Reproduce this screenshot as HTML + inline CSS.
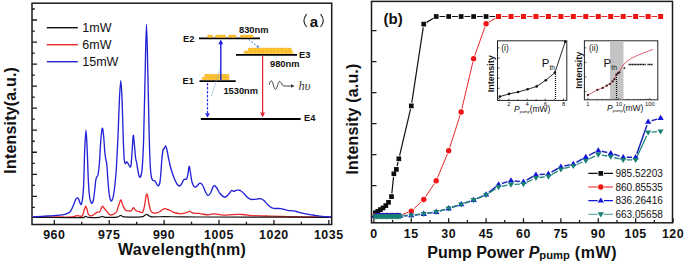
<!DOCTYPE html>
<html><head><meta charset="utf-8"><title>figure</title><style>
*{margin:0;padding:0}
html,body{width:685px;height:263px;background:#fff;overflow:hidden}
svg{display:block}
text{font-family:"Liberation Sans",sans-serif;fill:#111}
.tl{font-size:12.4px;font-weight:bold;text-anchor:middle;letter-spacing:0.55px}
.al{font-size:16px;font-weight:bold}
.lg{font-size:12.5px}
.lr{font-size:10px}
.pa{font-size:14px;font-weight:normal;fill:#333}
.ab{font-size:15px;font-weight:bold}
.bl{font-size:15px;font-weight:bold}
.el{font-size:9.3px;font-weight:bold}
.hv{font-family:"Liberation Serif",serif;font-style:italic;font-size:12.5px;fill:#3a3a3a}
.it{font-size:5.8px;text-anchor:middle}
.ip{font-size:8.5px}
.pth{font-size:11.5px}
.ix{font-size:8.5px}
.iy{font-size:9px;font-weight:bold}
</style></head>
<body><svg width="685" height="263" viewBox="0 0 685 263">
<rect width="685" height="263" fill="#fff"/>
<rect x="32" y="3.2" width="299.7" height="221.3" fill="none" stroke="#1b1b1b" stroke-width="1.5"/>
<path d="M32,20h5 M32,42.04h5 M32,64.08h5 M32,86.12h5 M32,108.16h5 M32,130.2h5 M32,152.24h5 M32,174.28h5 M32,196.32h5 M32,9h2.8 M32,31.04h2.8 M32,53.08h2.8 M32,75.12h2.8 M32,97.16h2.8 M32,119.2h2.8 M32,141.24h2.8 M32,163.28h2.8 M32,185.32h2.8 M32,207.36h2.8 M54.3,224.5v-4.5 M109.2,224.5v-4.5 M164.1,224.5v-4.5 M219,224.5v-4.5 M273.9,224.5v-4.5 M328.8,224.5v-4.5 M81.75,224.5v-2.7 M136.65,224.5v-2.7 M191.55,224.5v-2.7 M246.45,224.5v-2.7 M301.35,224.5v-2.7" stroke="#1b1b1b" stroke-width="1.3" fill="none"/>
<text x="54.3" y="239.1" class="tl">960</text>
<text x="109.2" y="239.1" class="tl">975</text>
<text x="164.1" y="239.1" class="tl">990</text>
<text x="219" y="239.1" class="tl">1005</text>
<text x="273.9" y="239.1" class="tl">1020</text>
<text x="328.8" y="239.1" class="tl">1035</text>
<text x="182.1" y="254.9" class="al" text-anchor="middle" letter-spacing="0.32">Wavelength(nm)</text>
<text transform="translate(15.9,120.3) rotate(-90)" class="al" text-anchor="middle" letter-spacing="0.18">Intensity(a.u.)</text>
<path d="M32.5,216.9 C37.08,216.92 53.7,216.98 60,217 C66.3,217.02 67.88,217.1 70.3,217 C72.72,216.9 73.33,216.63 74.5,216.4 C75.67,216.17 76.38,215.63 77.3,215.6 C78.22,215.57 79.13,216.2 80,216.2 C80.87,216.2 81.8,216.63 82.5,215.6 C83.2,214.57 83.65,211.57 84.2,210 C84.75,208.43 85.3,206.2 85.8,206.2 C86.3,206.2 86.75,208.62 87.2,210 C87.65,211.38 87.82,213.52 88.5,214.5 C89.18,215.48 90.38,215.9 91.3,215.9 C92.22,215.9 93.07,215.08 94,214.5 C94.93,213.92 95.95,212.87 96.9,212.4 C97.85,211.93 98.98,212.35 99.7,211.7 C100.42,211.05 100.73,209.43 101.2,208.5 C101.67,207.57 102.03,206.18 102.5,206.1 C102.97,206.02 103.3,207.15 104,208 C104.7,208.85 105.9,210.2 106.7,211.2 C107.5,212.2 108.1,213.37 108.8,214 C109.5,214.63 110.12,214.97 110.9,215 C111.68,215.03 112.55,214.75 113.5,214.2 C114.45,213.65 115.72,213.23 116.6,211.7 C117.48,210.17 118.1,206.95 118.8,205 C119.5,203.05 120.2,200.17 120.8,200 C121.4,199.83 121.9,202.75 122.4,204 C122.9,205.25 123.25,206.47 123.8,207.5 C124.35,208.53 124.92,209.63 125.7,210.2 C126.48,210.77 127.57,210.82 128.5,210.9 C129.43,210.98 130.48,211.25 131.3,210.7 C132.12,210.15 132.72,207.68 133.4,207.6 C134.08,207.52 134.45,209.52 135.4,210.2 C136.35,210.88 137.9,211.37 139.1,211.7 C140.3,212.03 141.7,213.15 142.6,212.2 C143.5,211.25 143.98,208.37 144.5,206 C145.02,203.63 145.32,200.07 145.7,198 C146.08,195.93 146.42,193.6 146.8,193.6 C147.18,193.6 147.6,196.1 148,198 C148.4,199.9 148.7,202.78 149.2,205 C149.7,207.22 150.28,209.97 151,211.3 C151.72,212.63 152.5,212.75 153.5,213 C154.5,213.25 155.92,213.05 157,212.8 C158.08,212.55 159.08,212.05 160,211.5 C160.92,210.95 161.67,209.98 162.5,209.5 C163.33,209.02 164.08,208.58 165,208.6 C165.92,208.62 166.83,209.12 168,209.6 C169.17,210.08 170.67,210.93 172,211.5 C173.33,212.07 174.6,212.62 176,213 C177.4,213.38 178.98,213.77 180.4,213.8 C181.82,213.83 183.32,213.47 184.5,213.2 C185.68,212.93 186.63,212.53 187.5,212.2 C188.37,211.87 188.95,211.13 189.7,211.2 C190.45,211.27 191.12,212.25 192,212.6 C192.88,212.95 193.83,213.17 195,213.3 C196.17,213.43 197.67,213.25 199,213.4 C200.33,213.55 201.43,213.97 203,214.2 C204.57,214.43 206.98,214.8 208.4,214.8 C209.82,214.8 210.52,214.37 211.5,214.2 C212.48,214.03 213.22,213.78 214.3,213.8 C215.38,213.82 216.25,214.08 218,214.3 C219.75,214.52 222.47,215.05 224.8,215.1 C227.13,215.15 229.37,214.72 232,214.6 C234.63,214.48 238.27,214.35 240.6,214.4 C242.93,214.45 244.22,214.7 246,214.9 C247.78,215.1 248.13,215.42 251.3,215.6 C254.47,215.78 258.55,215.83 265,216 C271.45,216.17 279,216.42 290,216.6 C301,216.78 324.17,217.02 331,217.1" stroke="#e8272a" stroke-width="1.3" fill="none" stroke-linejoin="round"/>
<path d="M32.5,217.4 C38.75,217.43 61.67,217.57 70,217.6 C78.33,217.63 79.87,217.82 82.5,217.6 C85.13,217.38 84.8,216.33 85.8,216.3 C86.8,216.27 86.3,217.23 88.5,217.4 C90.7,217.57 96.67,217.47 99,217.3 C101.33,217.13 101.42,216.4 102.5,216.4 C103.58,216.4 103.08,217.18 105.5,217.3 C107.92,217.42 114.45,217.43 117,217.1 C119.55,216.77 119.63,215.35 120.8,215.3 C121.97,215.25 120.8,216.53 124,216.8 C127.37,217.07 137.53,217.15 141,216.9 C144.47,216.65 143.83,215.72 144.8,215.3 C145.77,214.88 146.13,214.35 146.8,214.4 C147.47,214.45 147.93,215.2 148.8,215.6 C149.67,216 149.3,216.63 152,216.8 C154.7,216.97 160.33,216.58 165,216.6 C169.67,216.62 174.17,216.83 180,216.9 C185.83,216.97 188.33,216.97 200,217 C211.67,217.03 228.17,217.05 250,217.1 C271.83,217.15 317.5,217.27 331,217.3" stroke="#111" stroke-width="1.2" fill="none" stroke-linejoin="round"/>
<path d="M32.5,216.8 C35,216.67 42.92,216.27 47.5,216 C52.08,215.73 57.08,215.48 60,215.2 C62.92,214.92 63.58,214.68 65,214.3 C66.42,213.92 67.53,213.48 68.5,212.9 C69.47,212.32 70,212.03 70.8,210.8 C71.6,209.57 72.5,207.37 73.3,205.5 C74.1,203.63 74.93,200.88 75.6,199.6 C76.27,198.32 76.77,197.82 77.3,197.8 C77.83,197.78 78.32,198.55 78.8,199.5 C79.28,200.45 79.78,202.72 80.2,203.5 C80.62,204.28 80.93,204.87 81.3,204.2 C81.67,203.53 82.02,202.53 82.4,199.5 C82.78,196.47 83.22,194.25 83.6,186 C83.98,177.75 84.3,159.3 84.7,150 C85.1,140.7 85.58,130.2 86,130.2 C86.42,130.2 86.8,141.37 87.2,150 C87.6,158.63 87.98,174.08 88.4,182 C88.82,189.92 89.23,194.07 89.7,197.5 C90.17,200.93 90.78,201.68 91.2,202.6 C91.62,203.52 91.83,203.43 92.2,203 C92.57,202.57 93,202 93.4,200 C93.8,198 94.2,194.33 94.6,191 C95,187.67 95.4,182.42 95.8,180 C96.2,177.58 96.6,177.5 97,176.5 C97.4,175.5 97.78,176.42 98.2,174 C98.62,171.58 99.07,167.67 99.5,162 C99.93,156.33 100.33,145.65 100.8,140 C101.27,134.35 101.82,128.6 102.3,128.1 C102.78,127.6 103.28,133.02 103.7,137 C104.12,140.98 104.45,148.27 104.8,152 C105.15,155.73 105.47,157.4 105.8,159.4 C106.13,161.4 106.45,160.57 106.8,164 C107.15,167.43 107.48,174.83 107.9,180 C108.32,185.17 108.82,191.57 109.3,195 C109.78,198.43 110.32,199.77 110.8,200.6 C111.28,201.43 111.73,200.93 112.2,200 C112.67,199.07 113.13,197.67 113.6,195 C114.07,192.33 114.53,188.5 115,184 C115.47,179.5 115.9,176 116.4,168 C116.9,160 117.5,147.33 118,136 C118.5,124.67 118.93,109.23 119.4,100 C119.87,90.77 120.35,80.6 120.8,80.6 C121.25,80.6 121.68,90.1 122.1,100 C122.52,109.9 122.93,130 123.3,140 C123.67,150 123.97,156.07 124.3,160 C124.63,163.93 124.88,163.3 125.3,163.6 C125.72,163.9 126.3,161.73 126.8,161.8 C127.3,161.87 127.8,163.23 128.3,164 C128.8,164.77 129.35,166.15 129.8,166.4 C130.25,166.65 130.6,168.23 131,165.5 C131.4,162.77 131.82,155.03 132.2,150 C132.58,144.97 132.92,135.97 133.3,135.3 C133.68,134.63 134.12,142.22 134.5,146 C134.88,149.78 135.25,155.25 135.6,158 C135.95,160.75 136.23,160.5 136.6,162.5 C136.97,164.5 137.33,167.62 137.8,170 C138.27,172.38 138.9,175.8 139.4,176.8 C139.9,177.8 140.33,177.47 140.8,176 C141.27,174.53 141.73,174 142.2,168 C142.67,162 143.13,154.67 143.6,140 C144.07,125.33 144.52,99.25 145,80 C145.48,60.75 146,24.5 146.5,24.5 C147,24.5 147.53,60.75 148,80 C148.47,99.25 148.9,125.33 149.3,140 C149.7,154.67 150.03,161.75 150.4,168 C150.77,174.25 151.07,175.43 151.5,177.5 C151.93,179.57 152.42,179.82 153,180.4 C153.58,180.98 154.33,180.32 155,181 C155.67,181.68 156.42,183.7 157,184.5 C157.58,185.3 158.03,186.05 158.5,185.8 C158.97,185.55 159.42,184.97 159.8,183 C160.18,181.03 160.47,177.83 160.8,174 C161.13,170.17 161.43,164 161.8,160 C162.17,156 162.58,151.92 163,150 C163.42,148.08 163.85,149.17 164.3,148.5 C164.75,147.83 165.25,145.75 165.7,146 C166.15,146.25 166.53,148 167,150 C167.47,152 168,155.5 168.5,158 C169,160.5 169.42,162.67 170,165 C170.58,167.33 171.25,169.67 172,172 C172.75,174.33 173.67,177 174.5,179 C175.33,181 176.15,182.83 177,184 C177.85,185.17 178.85,186 179.6,186 C180.35,186 180.77,185.07 181.5,184 C182.23,182.93 183.17,180.43 184,179.6 C184.83,178.77 185.87,179.77 186.5,179 C187.13,178.23 187.35,177.1 187.8,175 C188.25,172.9 188.75,166.73 189.2,166.4 C189.65,166.07 190.03,170.4 190.5,173 C190.97,175.6 191.33,179.67 192,182 C192.67,184.33 193.67,186.33 194.5,187 C195.33,187.67 196.12,186.63 197,186 C197.88,185.37 198.88,183.37 199.8,183.2 C200.72,183.03 201.55,183.53 202.5,185 C203.45,186.47 204.58,190.25 205.5,192 C206.42,193.75 207.17,195.33 208,195.5 C208.83,195.67 209.57,194.58 210.5,193 C211.43,191.42 212.6,186.92 213.6,186 C214.6,185.08 215.43,186.25 216.5,187.5 C217.57,188.75 218.67,191.88 220,193.5 C221.33,195.12 223.17,196.95 224.5,197.2 C225.83,197.45 226.83,196.12 228,195 C229.17,193.88 230.53,191.1 231.5,190.5 C232.47,189.9 233.05,191.42 233.8,191.4 C234.55,191.38 235.22,190.6 236,190.4 C236.78,190.2 237.67,190.1 238.5,190.2 C239.33,190.3 240.12,190.47 241,191 C241.88,191.53 242.8,192.4 243.8,193.4 C244.8,194.4 245.93,196.03 247,197 C248.07,197.97 249.03,198.8 250.2,199.2 C251.37,199.6 252.7,199.45 254,199.4 C255.3,199.35 256.83,199 258,198.9 C259.17,198.8 260,198.52 261,198.8 C262,199.08 262.83,199.57 264,200.6 C265.17,201.63 266.57,203.73 268,205 C269.43,206.27 271.1,207.62 272.6,208.2 C274.1,208.78 275.6,208.42 277,208.5 C278.4,208.58 279.27,208.4 281,208.7 C282.73,209 285.27,209.93 287.4,210.3 C289.53,210.67 291.87,210.57 293.8,210.9 C295.73,211.23 297.22,211.85 299,212.3 C300.78,212.75 302.67,213.22 304.5,213.6 C306.33,213.98 308.25,214.32 310,214.6 C311.75,214.88 313,215.02 315,215.3 C317,215.58 319.33,216.02 322,216.3 C324.67,216.58 329.5,216.88 331,217" stroke="#2323d6" stroke-width="1.35" fill="none" stroke-linejoin="round"/>
<path d="M46.8,27.7H77.8" stroke="#111" stroke-width="1.4"/>
<text x="82.3" y="32" class="lg">1mW</text>
<path d="M46.8,44.7H77.8" stroke="#e8272a" stroke-width="1.4"/>
<text x="82.3" y="49" class="lg">6mW</text>
<path d="M46.8,61.7H77.8" stroke="#2323d6" stroke-width="1.4"/>
<text x="82.3" y="66" class="lg">15mW</text>
<path d="M306.6,14.2 Q301.4,20.6 306.6,27" stroke="#2a2a2a" stroke-width="1.15" fill="none"/><text x="309.8" y="26.8" class="ab">a</text><path d="M320.6,14.2 Q325.8,20.6 320.6,27" stroke="#2a2a2a" stroke-width="1.15" fill="none"/>
<path d="M199,38.3H260 M236,54.8H297 M199.5,81.2H235.7 M200.8,119H300.6" stroke="#000" stroke-width="1.8"/>
<text x="183" y="41.6" class="el">E2</text>
<text x="299" y="57.6" class="el">E3</text>
<text x="182.6" y="84.1" class="el">E1</text>
<text x="304" y="121.2" class="el">E4</text>
<text x="239" y="32.6" class="el">830nm</text>
<text x="270" y="67.2" class="el">980nm</text>
<text x="223.4" y="94" class="el">1530nm</text>
<circle cx="208.8" cy="36.3" r="1.2" fill="#ffdc3a" stroke="#f59a00" stroke-width="0.7"/>
<circle cx="211.3" cy="36.3" r="1.2" fill="#ffdc3a" stroke="#f59a00" stroke-width="0.7"/>
<circle cx="216.8" cy="36.3" r="1.2" fill="#ffdc3a" stroke="#f59a00" stroke-width="0.7"/>
<circle cx="219.3" cy="36.3" r="1.2" fill="#ffdc3a" stroke="#f59a00" stroke-width="0.7"/>
<circle cx="221.8" cy="36.3" r="1.2" fill="#ffdc3a" stroke="#f59a00" stroke-width="0.7"/>
<circle cx="224.3" cy="36.3" r="1.2" fill="#ffdc3a" stroke="#f59a00" stroke-width="0.7"/>
<circle cx="229.8" cy="36.3" r="1.2" fill="#ffdc3a" stroke="#f59a00" stroke-width="0.7"/>
<circle cx="232.3" cy="36.3" r="1.2" fill="#ffdc3a" stroke="#f59a00" stroke-width="0.7"/>
<circle cx="234.8" cy="36.3" r="1.2" fill="#ffdc3a" stroke="#f59a00" stroke-width="0.7"/>
<circle cx="241.8" cy="36.3" r="1.2" fill="#ffdc3a" stroke="#f59a00" stroke-width="0.7"/>
<circle cx="244.3" cy="36.3" r="1.2" fill="#ffdc3a" stroke="#f59a00" stroke-width="0.7"/>
<circle cx="246.8" cy="36.3" r="1.2" fill="#ffdc3a" stroke="#f59a00" stroke-width="0.7"/>
<circle cx="249.3" cy="36.3" r="1.2" fill="#ffdc3a" stroke="#f59a00" stroke-width="0.7"/>
<circle cx="251.8" cy="36.3" r="1.2" fill="#ffdc3a" stroke="#f59a00" stroke-width="0.7"/>
<circle cx="245.5" cy="52.3" r="1.35" fill="#ffdc3a" stroke="#f59a00" stroke-width="0.7"/>
<circle cx="248.2" cy="52.3" r="1.35" fill="#ffdc3a" stroke="#f59a00" stroke-width="0.7"/>
<circle cx="250.9" cy="52.3" r="1.35" fill="#ffdc3a" stroke="#f59a00" stroke-width="0.7"/>
<circle cx="253.6" cy="52.3" r="1.35" fill="#ffdc3a" stroke="#f59a00" stroke-width="0.7"/>
<circle cx="256.3" cy="52.3" r="1.35" fill="#ffdc3a" stroke="#f59a00" stroke-width="0.7"/>
<circle cx="259" cy="52.3" r="1.35" fill="#ffdc3a" stroke="#f59a00" stroke-width="0.7"/>
<circle cx="261.7" cy="52.3" r="1.35" fill="#ffdc3a" stroke="#f59a00" stroke-width="0.7"/>
<circle cx="264.4" cy="52.3" r="1.35" fill="#ffdc3a" stroke="#f59a00" stroke-width="0.7"/>
<circle cx="267.1" cy="52.3" r="1.35" fill="#ffdc3a" stroke="#f59a00" stroke-width="0.7"/>
<circle cx="269.8" cy="52.3" r="1.35" fill="#ffdc3a" stroke="#f59a00" stroke-width="0.7"/>
<circle cx="272.5" cy="52.3" r="1.35" fill="#ffdc3a" stroke="#f59a00" stroke-width="0.7"/>
<circle cx="275.2" cy="52.3" r="1.35" fill="#ffdc3a" stroke="#f59a00" stroke-width="0.7"/>
<circle cx="277.9" cy="52.3" r="1.35" fill="#ffdc3a" stroke="#f59a00" stroke-width="0.7"/>
<circle cx="280.6" cy="52.3" r="1.35" fill="#ffdc3a" stroke="#f59a00" stroke-width="0.7"/>
<circle cx="283.3" cy="52.3" r="1.35" fill="#ffdc3a" stroke="#f59a00" stroke-width="0.7"/>
<circle cx="286" cy="52.3" r="1.35" fill="#ffdc3a" stroke="#f59a00" stroke-width="0.7"/>
<circle cx="288.7" cy="52.3" r="1.35" fill="#ffdc3a" stroke="#f59a00" stroke-width="0.7"/>
<circle cx="291.4" cy="52.3" r="1.35" fill="#ffdc3a" stroke="#f59a00" stroke-width="0.7"/>
<circle cx="249.5" cy="49.4" r="1.35" fill="#ffdc3a" stroke="#f59a00" stroke-width="0.7"/>
<circle cx="252.2" cy="49.4" r="1.35" fill="#ffdc3a" stroke="#f59a00" stroke-width="0.7"/>
<circle cx="254.9" cy="49.4" r="1.35" fill="#ffdc3a" stroke="#f59a00" stroke-width="0.7"/>
<circle cx="257.6" cy="49.4" r="1.35" fill="#ffdc3a" stroke="#f59a00" stroke-width="0.7"/>
<circle cx="260.3" cy="49.4" r="1.35" fill="#ffdc3a" stroke="#f59a00" stroke-width="0.7"/>
<circle cx="263" cy="49.4" r="1.35" fill="#ffdc3a" stroke="#f59a00" stroke-width="0.7"/>
<circle cx="265.7" cy="49.4" r="1.35" fill="#ffdc3a" stroke="#f59a00" stroke-width="0.7"/>
<circle cx="268.4" cy="49.4" r="1.35" fill="#ffdc3a" stroke="#f59a00" stroke-width="0.7"/>
<circle cx="271.1" cy="49.4" r="1.35" fill="#ffdc3a" stroke="#f59a00" stroke-width="0.7"/>
<circle cx="273.8" cy="49.4" r="1.35" fill="#ffdc3a" stroke="#f59a00" stroke-width="0.7"/>
<circle cx="276.5" cy="49.4" r="1.35" fill="#ffdc3a" stroke="#f59a00" stroke-width="0.7"/>
<circle cx="279.2" cy="49.4" r="1.35" fill="#ffdc3a" stroke="#f59a00" stroke-width="0.7"/>
<circle cx="281.9" cy="49.4" r="1.35" fill="#ffdc3a" stroke="#f59a00" stroke-width="0.7"/>
<circle cx="284.6" cy="49.4" r="1.35" fill="#ffdc3a" stroke="#f59a00" stroke-width="0.7"/>
<circle cx="287.3" cy="49.4" r="1.35" fill="#ffdc3a" stroke="#f59a00" stroke-width="0.7"/>
<circle cx="290" cy="49.4" r="1.35" fill="#ffdc3a" stroke="#f59a00" stroke-width="0.7"/>
<circle cx="203.5" cy="78.5" r="1.35" fill="#ffdc3a" stroke="#f59a00" stroke-width="0.7"/>
<circle cx="206.2" cy="78.5" r="1.35" fill="#ffdc3a" stroke="#f59a00" stroke-width="0.7"/>
<circle cx="208.9" cy="78.5" r="1.35" fill="#ffdc3a" stroke="#f59a00" stroke-width="0.7"/>
<circle cx="211.6" cy="78.5" r="1.35" fill="#ffdc3a" stroke="#f59a00" stroke-width="0.7"/>
<circle cx="214.3" cy="78.5" r="1.35" fill="#ffdc3a" stroke="#f59a00" stroke-width="0.7"/>
<circle cx="217" cy="78.5" r="1.35" fill="#ffdc3a" stroke="#f59a00" stroke-width="0.7"/>
<circle cx="219.7" cy="78.5" r="1.35" fill="#ffdc3a" stroke="#f59a00" stroke-width="0.7"/>
<circle cx="222.4" cy="78.5" r="1.35" fill="#ffdc3a" stroke="#f59a00" stroke-width="0.7"/>
<circle cx="225.1" cy="78.5" r="1.35" fill="#ffdc3a" stroke="#f59a00" stroke-width="0.7"/>
<circle cx="227.8" cy="78.5" r="1.35" fill="#ffdc3a" stroke="#f59a00" stroke-width="0.7"/>
<circle cx="206" cy="75.6" r="1.35" fill="#ffdc3a" stroke="#f59a00" stroke-width="0.7"/>
<circle cx="208.7" cy="75.6" r="1.35" fill="#ffdc3a" stroke="#f59a00" stroke-width="0.7"/>
<circle cx="211.4" cy="75.6" r="1.35" fill="#ffdc3a" stroke="#f59a00" stroke-width="0.7"/>
<circle cx="214.1" cy="75.6" r="1.35" fill="#ffdc3a" stroke="#f59a00" stroke-width="0.7"/>
<circle cx="216.8" cy="75.6" r="1.35" fill="#ffdc3a" stroke="#f59a00" stroke-width="0.7"/>
<circle cx="219.5" cy="75.6" r="1.35" fill="#ffdc3a" stroke="#f59a00" stroke-width="0.7"/>
<circle cx="222.2" cy="75.6" r="1.35" fill="#ffdc3a" stroke="#f59a00" stroke-width="0.7"/>
<circle cx="224.9" cy="75.6" r="1.35" fill="#ffdc3a" stroke="#f59a00" stroke-width="0.7"/>
<circle cx="227.6" cy="75.6" r="1.35" fill="#ffdc3a" stroke="#f59a00" stroke-width="0.7"/>
<path d="M220.8,80V42" stroke="#1d1de0" stroke-width="1.4"/><path d="M220.8,39.6l-2.4,4.6h4.8z" fill="#1d1de0"/>
<path d="M211.5,96 L220.2,68" stroke="#6a9ad8" stroke-width="0.8" stroke-dasharray="1.6,1.4" fill="none"/>
<path d="M248.5,39.5 L258,46.6" stroke="#4a86d4" stroke-width="1" stroke-dasharray="2,1.5" fill="none"/><path d="M259.5,47.8l-3.4,-0.6l1.8,-2.2z" fill="#4a86d4"/>
<path d="M207.5,83 V113.5" stroke="#2a2ae0" stroke-width="1.2" stroke-dasharray="2.4,1.6" fill="none"/><path d="M207.5,117.8l-2.4,-4.6h4.8z" fill="#2a2ae0"/>
<path d="M262.6,55.5 V113" stroke="#e0222a" stroke-width="1.2"/><path d="M262.6,117.6l-2.4,-5h4.8z" fill="#e0222a"/>
<path d="M269.3,84.8 C270,81 271.5,79.4 272.6,82.4 C273.6,85.6 274.5,90 275.8,89.2 C277.2,88.2 278.4,80.6 280.0,81.4 C281.3,82.2 282,86 284,86 H292" stroke="#333" stroke-width="0.9" fill="none"/><path d="M294.6,86l-3.6,-1.7v3.4z" fill="#333"/>
<text x="298.6" y="89.9" class="hv">hυ</text>
<rect x="371.5" y="1.4" width="301" height="221.4" fill="none" stroke="#1b1b1b" stroke-width="1.5"/>
<path d="M371.5,30.6h5 M371.5,61.6h5 M371.5,92.6h5 M371.5,123.6h5 M371.5,154.6h5 M371.5,185.6h5 M371.5,216.6h5 M373.9,222.8v-4.5 M411.29,222.8v-4.5 M448.69,222.8v-4.5 M486.08,222.8v-4.5 M523.48,222.8v-4.5 M560.88,222.8v-4.5 M598.27,222.8v-4.5 M635.66,222.8v-4.5 M673.06,222.8v-4.5 M392.6,222.8v-2.7 M429.99,222.8v-2.7 M467.39,222.8v-2.7 M504.78,222.8v-2.7 M542.18,222.8v-2.7 M579.57,222.8v-2.7 M616.97,222.8v-2.7 M654.36,222.8v-2.7" stroke="#1b1b1b" stroke-width="1.3" fill="none"/>
<text x="373.9" y="238.2" class="tl">0</text>
<text x="411.29" y="238.2" class="tl">15</text>
<text x="448.69" y="238.2" class="tl">30</text>
<text x="486.08" y="238.2" class="tl">45</text>
<text x="523.48" y="238.2" class="tl">60</text>
<text x="560.88" y="238.2" class="tl">75</text>
<text x="598.27" y="238.2" class="tl">90</text>
<text x="635.66" y="238.2" class="tl">105</text>
<text x="673.06" y="238.2" class="tl">120</text>
<text x="427.3" y="258.4" class="al">Pump Power <tspan font-style="italic">P</tspan><tspan font-size="11.2" font-weight="bold" dy="0.2">pump</tspan><tspan dy="-0.2" letter-spacing="0.6"> (mW)</tspan></text>
<text transform="translate(358.1,119.1) rotate(-90)" class="al" text-anchor="middle" letter-spacing="0.16">Intensity (a.u.)</text>
<text x="383.6" y="24" class="bl">(b)</text>
<path d="M391.84,193.32L393.51,177.08 M397.09,166.19L398.07,162.01 M399.59,155.59L410.54,109.11 M411.79,102.64L423.26,27.36 M426.58,22.38L433.41,18.22 M439.52,16.5L445.39,16.5 M451.99,16.5L457.85,16.5 M464.45,16.5L470.32,16.5 M476.92,16.5L482.78,16.5 M489.38,16.5L495.25,16.5" fill="none" stroke="#111" stroke-width="1.2"/>
<rect x="373.05" y="210.45" width="4.7" height="4.7" fill="#0c0c0c"/>
<rect x="375.45" y="208.95" width="4.7" height="4.7" fill="#0c0c0c"/>
<rect x="378.05" y="207.25" width="4.7" height="4.7" fill="#0c0c0c"/>
<rect x="380.65" y="205.55" width="4.7" height="4.7" fill="#0c0c0c"/>
<rect x="383.45" y="203.25" width="4.7" height="4.7" fill="#0c0c0c"/>
<rect x="386.15" y="199.95" width="4.7" height="4.7" fill="#0c0c0c"/>
<rect x="389.15" y="194.25" width="4.7" height="4.7" fill="#0c0c0c"/>
<rect x="391.49" y="171.45" width="4.7" height="4.7" fill="#0c0c0c"/>
<rect x="393.99" y="167.05" width="4.7" height="4.7" fill="#0c0c0c"/>
<rect x="396.48" y="156.45" width="4.7" height="4.7" fill="#0c0c0c"/>
<rect x="408.94" y="103.55" width="4.7" height="4.7" fill="#0c0c0c"/>
<rect x="421.41" y="21.75" width="4.7" height="4.7" fill="#0c0c0c"/>
<rect x="433.87" y="14.15" width="4.7" height="4.7" fill="#0c0c0c"/>
<rect x="446.34" y="14.15" width="4.7" height="4.7" fill="#0c0c0c"/>
<rect x="458.8" y="14.15" width="4.7" height="4.7" fill="#0c0c0c"/>
<rect x="471.27" y="14.15" width="4.7" height="4.7" fill="#0c0c0c"/>
<rect x="483.73" y="14.15" width="4.7" height="4.7" fill="#0c0c0c"/>
<rect x="496.2" y="14.15" width="4.7" height="4.7" fill="#0c0c0c"/>
<path d="M402.04,214.47L408.09,212.33 M413.77,208.87L421.28,201.83 M425.65,196.67L434.34,183.63 M437.53,177.66L447.39,153.94 M449.73,147.56L460.12,115.24 M461.93,108.69L472.84,62.11 M474.76,55.6L484.94,27 M489.02,22.08L495.62,18.22 M501.95,16.5L507.62,16.5 M514.41,16.5L520.08,16.5 M526.88,16.5L532.54,16.5 M539.34,16.5L545.01,16.5 M551.81,16.5L557.48,16.5 M564.27,16.5L569.94,16.5 M576.74,16.5L582.4,16.5 M589.2,16.5L594.87,16.5 M601.67,16.5L607.33,16.5 M614.13,16.5L619.8,16.5 M626.6,16.5L632.26,16.5 M639.06,16.5L644.73,16.5 M651.53,16.5L657.2,16.5" fill="none" stroke="#e8262b" stroke-width="1.0"/>
<circle cx="375.15" cy="215.6" r="2.7" fill="#f01414"/>
<circle cx="376.39" cy="215.6" r="2.7" fill="#f01414"/>
<circle cx="377.64" cy="215.6" r="2.7" fill="#f01414"/>
<circle cx="378.89" cy="215.6" r="2.7" fill="#f01414"/>
<circle cx="380.13" cy="215.6" r="2.7" fill="#f01414"/>
<circle cx="381.38" cy="215.6" r="2.7" fill="#f01414"/>
<circle cx="382.63" cy="215.6" r="2.7" fill="#f01414"/>
<circle cx="383.87" cy="215.6" r="2.7" fill="#f01414"/>
<circle cx="385.12" cy="215.6" r="2.7" fill="#f01414"/>
<circle cx="386.36" cy="215.6" r="2.7" fill="#f01414"/>
<circle cx="387.61" cy="215.6" r="2.7" fill="#f01414"/>
<circle cx="388.86" cy="215.6" r="2.7" fill="#f01414"/>
<circle cx="390.1" cy="215.6" r="2.7" fill="#f01414"/>
<circle cx="391.35" cy="215.6" r="2.7" fill="#f01414"/>
<circle cx="392.6" cy="215.6" r="2.7" fill="#f01414"/>
<circle cx="393.84" cy="215.6" r="2.7" fill="#f01414"/>
<circle cx="395.09" cy="215.6" r="2.7" fill="#f01414"/>
<circle cx="396.34" cy="215.6" r="2.7" fill="#f01414"/>
<circle cx="397.58" cy="215.6" r="2.7" fill="#f01414"/>
<circle cx="398.83" cy="215.6" r="2.7" fill="#f01414"/>
<circle cx="411.29" cy="211.2" r="2.7" fill="#f01414"/>
<circle cx="423.76" cy="199.5" r="2.7" fill="#f01414"/>
<circle cx="436.22" cy="180.8" r="2.7" fill="#f01414"/>
<circle cx="448.69" cy="150.8" r="2.7" fill="#f01414"/>
<circle cx="461.15" cy="112" r="2.7" fill="#f01414"/>
<circle cx="473.62" cy="58.8" r="2.7" fill="#f01414"/>
<circle cx="486.08" cy="23.8" r="2.7" fill="#f01414"/>
<rect x="496.05" y="14" width="5" height="5" fill="#f01414"/>
<rect x="508.51" y="14" width="5" height="5" fill="#f01414"/>
<rect x="520.98" y="14" width="5" height="5" fill="#f01414"/>
<rect x="533.44" y="14" width="5" height="5" fill="#f01414"/>
<rect x="545.91" y="14" width="5" height="5" fill="#f01414"/>
<rect x="558.38" y="14" width="5" height="5" fill="#f01414"/>
<rect x="570.84" y="14" width="5" height="5" fill="#f01414"/>
<rect x="583.3" y="14" width="5" height="5" fill="#f01414"/>
<rect x="595.77" y="14" width="5" height="5" fill="#f01414"/>
<rect x="608.23" y="14" width="5" height="5" fill="#f01414"/>
<rect x="620.7" y="14" width="5" height="5" fill="#f01414"/>
<rect x="633.16" y="14" width="5" height="5" fill="#f01414"/>
<rect x="645.63" y="14" width="5" height="5" fill="#f01414"/>
<rect x="658.1" y="14" width="5" height="5" fill="#f01414"/>
<path d="M403.67,215.57L407.7,215.43 M414.87,214.9L420.18,214.3 M427.31,213.33L432.67,212.47 M439.69,210.93L445.22,209.37 M452.11,207.28L457.74,205.42 M464.56,203.13L470.22,201.17 M476.92,198.57L482.78,196.03 M488.89,192.35L495.74,186.85 M501.97,183.48L507.6,181.62 M514.59,180.9L519.9,181.5 M526.6,180.1L532.83,176.5 M539.54,174.47L544.82,174.13 M551.53,172.1L557.76,168.5 M564.39,165.94L569.82,164.76 M576.49,162.26L582.66,158.84 M588.99,155.42L595.09,152.18 M601.79,151.26L607.22,152.44 M614.16,154.3L619.77,156.1 M626.8,157.2L632.06,157.2 M636.86,153.8L646.93,125.2 M651.58,120.78L657.14,119.12" fill="none" stroke="#1f27b8" stroke-width="1.5"/>
<path d="M375.15,212.4l3.2,5.3h-6.4z" fill="#1414d8"/>
<path d="M376.39,212.4l3.2,5.3h-6.4z" fill="#1414d8"/>
<path d="M377.64,212.4l3.2,5.3h-6.4z" fill="#1414d8"/>
<path d="M378.89,212.4l3.2,5.3h-6.4z" fill="#1414d8"/>
<path d="M380.13,212.4l3.2,5.3h-6.4z" fill="#1414d8"/>
<path d="M381.38,212.4l3.2,5.3h-6.4z" fill="#1414d8"/>
<path d="M382.63,212.4l3.2,5.3h-6.4z" fill="#1414d8"/>
<path d="M383.87,212.4l3.2,5.3h-6.4z" fill="#1414d8"/>
<path d="M385.12,212.4l3.2,5.3h-6.4z" fill="#1414d8"/>
<path d="M386.36,212.4l3.2,5.3h-6.4z" fill="#1414d8"/>
<path d="M387.61,212.4l3.2,5.3h-6.4z" fill="#1414d8"/>
<path d="M388.86,212.4l3.2,5.3h-6.4z" fill="#1414d8"/>
<path d="M390.1,212.4l3.2,5.3h-6.4z" fill="#1414d8"/>
<path d="M391.35,212.4l3.2,5.3h-6.4z" fill="#1414d8"/>
<path d="M392.6,212.4l3.2,5.3h-6.4z" fill="#1414d8"/>
<path d="M393.84,212.4l3.2,5.3h-6.4z" fill="#1414d8"/>
<path d="M395.09,212.4l3.2,5.3h-6.4z" fill="#1414d8"/>
<path d="M396.34,212.4l3.2,5.3h-6.4z" fill="#1414d8"/>
<path d="M397.58,212.4l3.2,5.3h-6.4z" fill="#1414d8"/>
<path d="M398.83,212.4l3.2,5.3h-6.4z" fill="#1414d8"/>
<path d="M400.08,212.4l3.2,5.3h-6.4z" fill="#1414d8"/>
<path d="M411.29,212l3.2,5.3h-6.4z" fill="#1414d8"/>
<path d="M423.76,210.6l3.2,5.3h-6.4z" fill="#1414d8"/>
<path d="M436.22,208.6l3.2,5.3h-6.4z" fill="#1414d8"/>
<path d="M448.69,205.1l3.2,5.3h-6.4z" fill="#1414d8"/>
<path d="M461.15,201l3.2,5.3h-6.4z" fill="#1414d8"/>
<path d="M473.62,196.7l3.2,5.3h-6.4z" fill="#1414d8"/>
<path d="M486.08,191.3l3.2,5.3h-6.4z" fill="#1414d8"/>
<path d="M498.55,181.3l3.2,5.3h-6.4z" fill="#1414d8"/>
<path d="M511.01,177.2l3.2,5.3h-6.4z" fill="#1414d8"/>
<path d="M523.48,178.6l3.2,5.3h-6.4z" fill="#1414d8"/>
<path d="M535.94,171.4l3.2,5.3h-6.4z" fill="#1414d8"/>
<path d="M548.41,170.6l3.2,5.3h-6.4z" fill="#1414d8"/>
<path d="M560.88,163.4l3.2,5.3h-6.4z" fill="#1414d8"/>
<path d="M573.34,160.7l3.2,5.3h-6.4z" fill="#1414d8"/>
<path d="M585.8,153.8l3.2,5.3h-6.4z" fill="#1414d8"/>
<path d="M598.27,147.2l3.2,5.3h-6.4z" fill="#1414d8"/>
<path d="M610.73,149.9l3.2,5.3h-6.4z" fill="#1414d8"/>
<path d="M623.2,153.9l3.2,5.3h-6.4z" fill="#1414d8"/>
<path d="M635.66,153.9l3.2,5.3h-6.4z" fill="#1414d8"/>
<path d="M648.13,118.5l3.2,5.3h-6.4z" fill="#1414d8"/>
<path d="M660.6,114.8l3.2,5.3h-6.4z" fill="#1414d8"/>
<path d="M403.66,215.98L407.71,215.62 M414.87,214.9L420.18,214.3 M427.31,213.33L432.67,212.47 M439.69,210.93L445.22,209.37 M452.11,207.28L457.74,205.42 M464.56,203.13L470.22,201.17 M476.94,198.61L482.76,196.19 M489.14,192.89L495.5,188.91 M502.08,186.29L507.49,185.21 M514.61,184.36L519.88,184.14 M526.71,182.42L532.71,179.48 M539.52,177.5L544.83,176.9 M551.54,174.72L557.75,171.18 M564.34,168.43L569.87,166.87 M576.65,164.49L582.49,162.01 M589.04,159.02L595.04,156.08 M601.82,155.1L607.19,156 M614.22,157.5L619.71,158.9 M626.8,159.8L632.06,159.8 M637.16,156.52L646.64,135.68 M651.72,132.11L657.01,131.69" fill="none" stroke="#22877a" stroke-width="1.3"/>
<path d="M375.15,219.5l3.1,-5.1h-6.2z" fill="#178074"/>
<path d="M376.39,219.5l3.1,-5.1h-6.2z" fill="#178074"/>
<path d="M377.64,219.5l3.1,-5.1h-6.2z" fill="#178074"/>
<path d="M378.89,219.5l3.1,-5.1h-6.2z" fill="#178074"/>
<path d="M380.13,219.5l3.1,-5.1h-6.2z" fill="#178074"/>
<path d="M381.38,219.5l3.1,-5.1h-6.2z" fill="#178074"/>
<path d="M382.63,219.5l3.1,-5.1h-6.2z" fill="#178074"/>
<path d="M383.87,219.5l3.1,-5.1h-6.2z" fill="#178074"/>
<path d="M385.12,219.5l3.1,-5.1h-6.2z" fill="#178074"/>
<path d="M386.36,219.5l3.1,-5.1h-6.2z" fill="#178074"/>
<path d="M387.61,219.5l3.1,-5.1h-6.2z" fill="#178074"/>
<path d="M388.86,219.5l3.1,-5.1h-6.2z" fill="#178074"/>
<path d="M390.1,219.5l3.1,-5.1h-6.2z" fill="#178074"/>
<path d="M391.35,219.5l3.1,-5.1h-6.2z" fill="#178074"/>
<path d="M392.6,219.5l3.1,-5.1h-6.2z" fill="#178074"/>
<path d="M393.84,219.5l3.1,-5.1h-6.2z" fill="#178074"/>
<path d="M395.09,219.5l3.1,-5.1h-6.2z" fill="#178074"/>
<path d="M396.34,219.5l3.1,-5.1h-6.2z" fill="#178074"/>
<path d="M397.58,219.5l3.1,-5.1h-6.2z" fill="#178074"/>
<path d="M398.83,219.5l3.1,-5.1h-6.2z" fill="#178074"/>
<path d="M400.08,219.5l3.1,-5.1h-6.2z" fill="#178074"/>
<path d="M411.29,218.5l3.1,-5.1h-6.2z" fill="#178074"/>
<path d="M423.76,217.1l3.1,-5.1h-6.2z" fill="#178074"/>
<path d="M436.22,215.1l3.1,-5.1h-6.2z" fill="#178074"/>
<path d="M448.69,211.6l3.1,-5.1h-6.2z" fill="#178074"/>
<path d="M461.15,207.5l3.1,-5.1h-6.2z" fill="#178074"/>
<path d="M473.62,203.2l3.1,-5.1h-6.2z" fill="#178074"/>
<path d="M486.08,198l3.1,-5.1h-6.2z" fill="#178074"/>
<path d="M498.55,190.2l3.1,-5.1h-6.2z" fill="#178074"/>
<path d="M511.01,187.7l3.1,-5.1h-6.2z" fill="#178074"/>
<path d="M523.48,187.2l3.1,-5.1h-6.2z" fill="#178074"/>
<path d="M535.94,181.1l3.1,-5.1h-6.2z" fill="#178074"/>
<path d="M548.41,179.7l3.1,-5.1h-6.2z" fill="#178074"/>
<path d="M560.88,172.6l3.1,-5.1h-6.2z" fill="#178074"/>
<path d="M573.34,169.1l3.1,-5.1h-6.2z" fill="#178074"/>
<path d="M585.8,163.8l3.1,-5.1h-6.2z" fill="#178074"/>
<path d="M598.27,157.7l3.1,-5.1h-6.2z" fill="#178074"/>
<path d="M610.73,159.8l3.1,-5.1h-6.2z" fill="#178074"/>
<path d="M623.2,163l3.1,-5.1h-6.2z" fill="#178074"/>
<path d="M635.66,163l3.1,-5.1h-6.2z" fill="#178074"/>
<path d="M648.13,135.6l3.1,-5.1h-6.2z" fill="#178074"/>
<path d="M660.6,134.6l3.1,-5.1h-6.2z" fill="#178074"/>
<path d="M588.3,173.4H597.6 M604,173.4H613" stroke="#0c0c0c" stroke-width="1.1"/>
<rect x="598.45" y="171.05" width="4.7" height="4.7" fill="#0c0c0c"/>
<text x="615.5" y="177.1" class="lr">985.52203</text>
<path d="M588.3,187H597.6 M604,187H613" stroke="#f01414" stroke-width="1.1"/>
<circle cx="600.8" cy="187" r="2.7" fill="#f01414"/>
<text x="615.5" y="190.7" class="lr">860.85535</text>
<path d="M588.3,200.6H597.6 M604,200.6H613" stroke="#1414d8" stroke-width="1.1"/>
<path d="M600.8,197.4l3.2,5.2h-6.4z" fill="#1414d8"/>
<text x="615.5" y="204.3" class="lr">836.26416</text>
<path d="M588.3,214.2H597.6 M604,214.2H613" stroke="#3d9a8e" stroke-width="1.1"/>
<path d="M600.8,217.4l3.2,-5.2h-6.4z" fill="#178074"/>
<text x="615.5" y="217.9" class="lr">663.05658</text>
<rect x="497.5" y="40.8" width="69.3" height="59.6" fill="#fff" stroke="#222" stroke-width="1"/>
<path d="M497.5,47.9h2 M497.5,58h2 M497.5,68.1h2 M497.5,78.2h2 M497.5,88.3h2 M497.5,98.4h2 M499.8,100.4v-1.1 M508.9,100.4v-1.8 M518,100.4v-1.1 M527.1,100.4v-1.8 M536.2,100.4v-1.1 M545.3,100.4v-1.8 M554.4,100.4v-1.1 M563.5,100.4v-1.8" stroke="#222" stroke-width="0.8" fill="none"/>
<polyline points="499.9,96.6 509,93.9 518.1,92 527.6,89.3 536.7,86.4 545.8,80.2 554.9,72.6 565.2,41.8" fill="none" stroke="#111" stroke-width="0.9"/>
<circle cx="499.9" cy="96.6" r="1.3" fill="#111"/>
<circle cx="509" cy="93.9" r="1.3" fill="#111"/>
<circle cx="518.1" cy="92" r="1.3" fill="#111"/>
<circle cx="527.6" cy="89.3" r="1.3" fill="#111"/>
<circle cx="536.7" cy="86.4" r="1.3" fill="#111"/>
<circle cx="545.8" cy="80.2" r="1.3" fill="#111"/>
<circle cx="554.9" cy="72.6" r="1.3" fill="#111"/>
<circle cx="565.2" cy="41.8" r="1.3" fill="#111"/>
<path d="M555.5,74V100" stroke="#000" stroke-width="1.2" stroke-dasharray="1,1"/>
<text x="508.9" y="105.8" class="it">2</text>
<text x="527.1" y="105.8" class="it">4</text>
<text x="545.3" y="105.8" class="it">6</text>
<text x="563.5" y="105.8" class="it">8</text>
<text x="501.2" y="50.5" class="ip">(i)</text>
<text x="541.8" y="67" class="pth">P<tspan font-size="6.8" dy="2.7">th</tspan></text>
<text x="514" y="111.6" class="ix"><tspan font-style="italic">P</tspan><tspan font-size="4" dy="1">pump</tspan><tspan dy="-1">(mW)</tspan></text>
<text transform="translate(494.2,73.8) rotate(-90)" class="iy" text-anchor="middle">Intensity</text>
<rect x="584.4" y="40.8" width="73.4" height="59" fill="#fff" stroke="#222" stroke-width="1"/>
<rect x="610" y="41.3" width="13.5" height="58" fill="#c4c4c4"/>
<path d="M584.4,47.9h2 M584.4,62.4h2 M584.4,76.9h2 M584.4,91.4h2 M587.9,99.8v-2 M597.22,99.8v-1 M602.67,99.8v-1 M606.53,99.8v-1 M609.53,99.8v-1 M611.98,99.8v-1 M614.06,99.8v-1 M615.85,99.8v-1 M617.43,99.8v-1 M618.85,99.8v-2 M628.17,99.8v-1 M633.62,99.8v-1 M637.48,99.8v-1 M640.48,99.8v-1 M642.93,99.8v-1 M645.01,99.8v-1 M646.8,99.8v-1 M648.38,99.8v-1 M649.8,99.8v-2" stroke="#222" stroke-width="0.7" fill="none"/>
<path d="M616.5,75V99.5" stroke="#000" stroke-width="1.2" stroke-dasharray="1,1"/>
<path d="M587.9,95.1 L597.4,89.8 L602.7,87.9 L606.8,85.7 L609.8,84 L612.6,81.4 L614.4,79.1 L616.4,74.6 L619.4,71.5 C621,68.5 623,64.5 626,62 C632,57 642,53.5 652.8,49.4" stroke="#d9364a" stroke-width="0.8" fill="none"/>
<circle cx="587.9" cy="95.1" r="1.1" fill="#3a1111"/>
<circle cx="597.4" cy="89.8" r="1.1" fill="#3a1111"/>
<circle cx="602.7" cy="87.9" r="1.1" fill="#3a1111"/>
<circle cx="606.8" cy="85.7" r="1.1" fill="#3a1111"/>
<circle cx="609.8" cy="84" r="1.1" fill="#3a1111"/>
<circle cx="612.6" cy="81.4" r="1.1" fill="#3a1111"/>
<circle cx="614.4" cy="79.1" r="1.1" fill="#3a1111"/>
<circle cx="616.4" cy="74.6" r="1.1" fill="#3a1111"/>
<circle cx="617.9" cy="73.3" r="1.1" fill="#3a1111"/>
<circle cx="619.4" cy="72.3" r="1.1" fill="#3a1111"/>
<circle cx="624.4" cy="68.1" r="0.9" fill="#111"/>
<path d="M628.5,64.5H646 M647.5,64.5H652.8" stroke="#000" stroke-width="1.6" stroke-dasharray="1.2,0.4"/>
<text x="587.9" y="105.8" class="it">1</text>
<text x="618.9" y="105.8" class="it">10</text>
<text x="649.8" y="105.8" class="it">100</text>
<text x="589" y="50.5" class="ip">(ii)</text>
<text x="603.6" y="67" class="pth">P<tspan font-size="6.8" dy="2.5">th</tspan></text>
<text x="607" y="110.6" class="ix"><tspan font-style="italic">P</tspan><tspan font-size="4" dy="1">pump</tspan><tspan dy="-1">(mW)</tspan></text>
<text transform="translate(581.8,70.3) rotate(-90)" class="iy" text-anchor="middle">Intensity</text>
</svg></body></html>
